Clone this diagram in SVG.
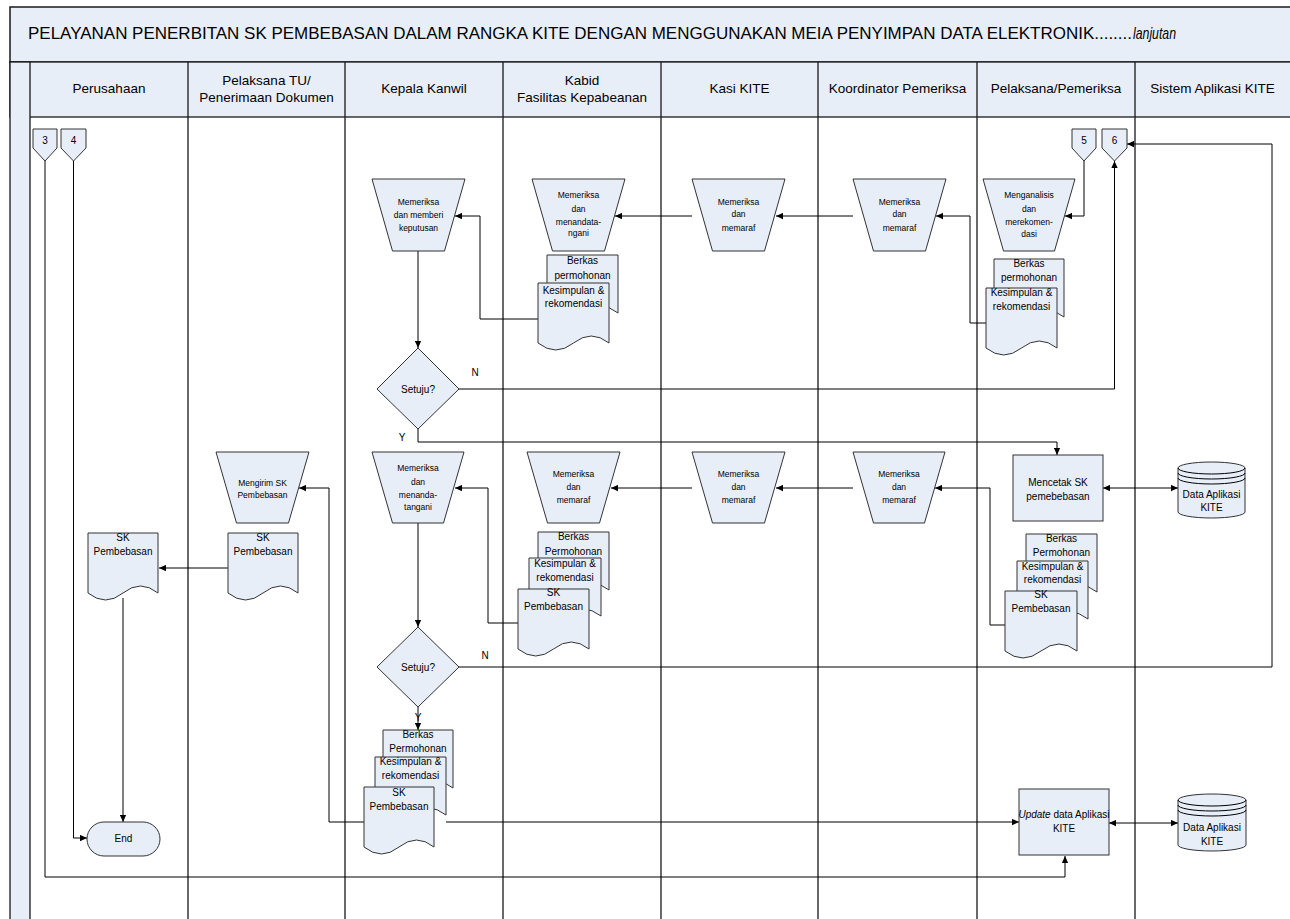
<svg xmlns="http://www.w3.org/2000/svg" width="1290" height="919" viewBox="0 0 1290 919">
<defs>
<marker id="ah" viewBox="0 0 10 10" refX="10" refY="5" markerWidth="7" markerHeight="7" markerUnits="userSpaceOnUse" orient="auto-start-reverse"><path d="M0,0.5 L10,5 L0,9.5 Z" fill="#000"/></marker>
</defs>
<style>
text{font-family:"Liberation Sans",Arial,sans-serif;fill:#000}
.sh{fill:#e8eef8;stroke:#333;stroke-width:1}
.lane{stroke:#1a1a1a;stroke-width:1.3;fill:none}
.hd{font-size:13.5px;text-anchor:middle}
.s{font-size:8.5px;text-anchor:middle}
.d{font-size:10px;text-anchor:middle}
.c{stroke:#000;stroke-width:1;fill:none}
.ca{stroke:#000;stroke-width:1;fill:none;marker-end:url(#ah)}
.cb{stroke:#000;stroke-width:1;fill:none;marker-end:url(#ah);marker-start:url(#ah)}
.lb{font-size:10px;text-anchor:middle}
</style>
<rect width="1290" height="919" fill="#fff"/>
<g id="frame">
<rect x="10" y="7" width="1290" height="55" fill="#e8eef8" stroke="#1a1a1a" stroke-width="1.5"/>
<text x="28" y="39" font-size="17" textLength="1104" lengthAdjust="spacingAndGlyphs">PELAYANAN PENERBITAN SK PEMBEBASAN DALAM RANGKA KITE DENGAN MENGGUNAKAN MEIA PENYIMPAN DATA ELEKTRONIK........</text>
<text x="1133" y="39" font-size="17" font-style="italic" textLength="43" lengthAdjust="spacingAndGlyphs">lanjutan</text>
<rect x="10" y="62" width="1290" height="55" fill="#e8eef8" stroke="#1a1a1a" stroke-width="1.3"/>
<rect x="10" y="62" width="20" height="870" fill="#e8eef8" stroke="#1a1a1a" stroke-width="1.3"/>
<path class="lane" d="M188,62V919M345,62V919M503,62V919M661,62V919M818,62V919M977,62V919M1135,62V919"/>
<text class="hd" x="109" y="93">Perusahaan</text>
<text class="hd" x="266.5" y="85">Pelaksana TU/</text>
<text class="hd" x="266.5" y="102">Penerimaan Dokumen</text>
<text class="hd" x="424" y="93">Kepala Kanwil</text>
<text class="hd" x="582" y="85">Kabid</text>
<text class="hd" x="582" y="102">Fasilitas Kepabeanan</text>
<text class="hd" x="739.5" y="93">Kasi KITE</text>
<text class="hd" x="897.5" y="93">Koordinator Pemeriksa</text>
<text class="hd" x="1056" y="93">Pelaksana/Pemeriksa</text>
<text class="hd" x="1212.5" y="93">Sistem Aplikasi KITE</text>
</g>
<g id="connectors">
<path class="ca" d="M45,161V877H1065V856"/>
<path class="ca" d="M73.5,161V838H87"/>
<path class="ca" d="M123,598V822"/>
<path class="ca" d="M228,568H159"/>
<path class="ca" d="M364,822H329V488H299"/>
<path class="ca" d="M446,822H1019"/>
<path class="ca" d="M418,523V627"/>
<path class="ca" d="M418,707V730"/>
<path class="ca" d="M459,667H1272V144H1127"/>
<path class="ca" d="M518,623H488V488H455"/>
<path class="ca" d="M692,488H611"/>
<path class="ca" d="M853,488H776"/>
<path class="ca" d="M1005,625H990V488H935"/>
<path class="ca" d="M418,429V442H1057V455"/>
<path class="cb" d="M1103,488H1178"/>
<path class="cb" d="M1109,823H1178"/>
<path class="ca" d="M459,389H1114.5V161"/>
<path class="ca" d="M418,251V348"/>
<path class="ca" d="M538,319H480V216H455"/>
<path class="ca" d="M692,216H615"/>
<path class="ca" d="M853,216H776"/>
<path class="ca" d="M986,323H970V216H936"/>
<path class="ca" d="M1084,161V216H1065"/>
<text class="lb" x="475" y="376">N</text>
<text class="lb" x="402" y="441">Y</text>
<text class="lb" x="485" y="659">N</text>
<text class="lb" x="418" y="721">Y</text>
</g>
<g id="off3"><path class="sh" d="M33,129H57V148L45,161L33,148Z"/><text class="lb" x="45" y="144">3</text></g>
<g id="off4"><path class="sh" d="M61,129H86V148L73.5,161L61,148Z"/><text class="lb" x="73.5" y="144">4</text></g>
<g id="off5"><path class="sh" d="M1072,129H1096V148L1084,161L1072,148Z"/><text class="lb" x="1084" y="144">5</text></g>
<g id="off6"><path class="sh" d="M1102,129H1127V148L1114.5,161L1102,148Z"/><text class="lb" x="1114.5" y="144">6</text></g>

<g id="kepala1"><path class="sh" d="M372,179H465L444.5,251H392.5Z"/>
<text class="s" x="418.5" y="205">Memeriksa</text><text class="s" x="418.5" y="218">dan memberi</text><text class="s" x="418.5" y="231">keputusan</text></g>
<g id="kabid1"><path class="sh" d="M532,179H625L604.5,251H552.5Z"/>
<text class="s" x="578.5" y="198">Memeriksa</text><text class="s" x="578.5" y="212">dan</text><text class="s" x="578.5" y="225">menandata-</text><text class="s" x="578.5" y="236">ngani</text></g>
<g id="kasi1"><path class="sh" d="M692,179H785L764.5,251H712.5Z"/>
<text class="s" x="738.5" y="205">Memeriksa</text><text class="s" x="738.5" y="217">dan</text><text class="s" x="738.5" y="231">memaraf</text></g>
<g id="koord1"><path class="sh" d="M853,179H946L925.5,251H873.5Z"/>
<text class="s" x="899.5" y="205">Memeriksa</text><text class="s" x="899.5" y="217">dan</text><text class="s" x="899.5" y="231">memaraf</text></g>
<g id="analisis1"><path class="sh" d="M983,179H1075L1054.5,251H1003.5Z"/>
<text class="s" x="1029" y="198">Menganalisis</text><text class="s" x="1029" y="212">dan</text><text class="s" x="1029" y="225">merekomen-</text><text class="s" x="1029" y="237">dasi</text></g>

<g id="docs-kabid1">
<path class="sh" d="M547,255H618V313Q600.25,299,582.5,313Q564.75,327,547,313Z"/>
<text class="d" x="582.5" y="264">Berkas</text><text class="d" x="582.5" y="279">permohonan</text>
<path class="sh" d="M538,283H609V343Q591.25,329,573.5,343Q555.75,357,538,343Z"/>
<text class="d" x="573.5" y="294">Kesimpulan &amp;</text><text class="d" x="573.5" y="307">rekomendasi</text>
</g>
<g id="docs-pelaksana1">
<path class="sh" d="M994,259H1064V317Q1046.5,303,1029,317Q1011.5,331,994,317Z"/>
<text class="d" x="1029" y="267">Berkas</text><text class="d" x="1029" y="281">permohonan</text>
<path class="sh" d="M986,288H1057V348Q1039.25,334,1021.5,348Q1003.75,362,986,348Z"/>
<text class="d" x="1021.5" y="296">Kesimpulan &amp;</text><text class="d" x="1021.5" y="310">rekomendasi</text>
</g>
<g id="setuju1"><path class="sh" d="M418,348L459,389L418,429L377,389Z"/><text class="lb" x="418" y="392.5">Setuju?</text></g>

<g id="mengirim"><path class="sh" d="M216,452H309L288.5,523H236.5Z"/>
<text class="s" x="262.5" y="486">Mengirim SK</text><text class="s" x="262.5" y="498">Pembebasan</text></g>
<g id="kepala2"><path class="sh" d="M372,452H464L443.5,523H392.5Z"/>
<text class="s" x="418" y="471">Memeriksa</text><text class="s" x="418" y="485">dan</text><text class="s" x="418" y="498">menanda-</text><text class="s" x="418" y="510">tangani</text></g>
<g id="kabid2"><path class="sh" d="M527,452H620L599.5,523H547.5Z"/>
<text class="s" x="573.5" y="477">Memeriksa</text><text class="s" x="573.5" y="490">dan</text><text class="s" x="573.5" y="503">memaraf</text></g>
<g id="kasi2"><path class="sh" d="M692,452H785L764.5,523H712.5Z"/>
<text class="s" x="738.5" y="477">Memeriksa</text><text class="s" x="738.5" y="490">dan</text><text class="s" x="738.5" y="503">memaraf</text></g>
<g id="koord2"><path class="sh" d="M853,452H945L924.5,523H873.5Z"/>
<text class="s" x="899" y="477">Memeriksa</text><text class="s" x="899" y="490">dan</text><text class="s" x="899" y="503">memaraf</text></g>
<g id="mencetak"><rect class="sh" x="1013" y="455" width="90" height="66"/>
<text class="d" x="1058" y="486">Mencetak SK</text><text class="d" x="1058" y="500">pemebebasan</text></g>
<g id="db1"><path class="sh" d="M1178,468A33.5,6,0,0,1,1245,468V512A33.5,6,0,0,1,1178,512Z"/>
<path class="c" d="M1178,468A33.5,6,0,0,0,1245,468M1178,473A33.5,6,0,0,0,1245,473M1178,478A33.5,6,0,0,0,1245,478"/>
<text class="d" x="1211.5" y="498">Data Aplikasi</text><text class="d" x="1211.5" y="511">KITE</text></g>

<g id="docs-kabid2">
<path class="sh" d="M538,532H609V590Q591.25,576,573.5,590Q555.75,604,538,590Z"/>
<text class="d" x="573.5" y="540">Berkas</text><text class="d" x="573.5" y="555">Permohonan</text>
<path class="sh" d="M529,558H601V616Q583,602,565,616Q547,630,529,616Z"/>
<text class="d" x="565" y="567">Kesimpulan &amp;</text><text class="d" x="565" y="581">rekomendasi</text>
<path class="sh" d="M518,589H589V649Q571.25,635,553.5,649Q535.75,663,518,649Z"/>
<text class="d" x="553.5" y="596">SK</text><text class="d" x="553.5" y="610">Pembebasan</text>
</g>
<g id="docs-pelaksana2">
<path class="sh" d="M1026,534H1097V592Q1079.25,578,1061.5,592Q1043.75,606,1026,592Z"/>
<text class="d" x="1061.5" y="542">Berkas</text><text class="d" x="1061.5" y="556">Permohonan</text>
<path class="sh" d="M1017,561H1088V619Q1070.25,605,1052.5,619Q1034.75,633,1017,619Z"/>
<text class="d" x="1052.5" y="570">Kesimpulan &amp;</text><text class="d" x="1052.5" y="583">rekomendasi</text>
<path class="sh" d="M1005,591H1077V651Q1059,637,1041,651Q1023,665,1005,651Z"/>
<text class="d" x="1041" y="598">SK</text><text class="d" x="1041" y="612">Pembebasan</text>
</g>
<g id="doc-tu"><path class="sh" d="M228,533H298V593Q280.5,579,263,593Q245.5,607,228,593Z"/>
<text class="d" x="263" y="541">SK</text><text class="d" x="263" y="555">Pembebasan</text></g>
<g id="doc-perusahaan"><path class="sh" d="M88,533H158V593Q140.5,579,123,593Q105.5,607,88,593Z"/>
<text class="d" x="123" y="541">SK</text><text class="d" x="123" y="555">Pembebasan</text></g>
<g id="setuju2"><path class="sh" d="M418,627L459,667L418,707L377,667Z"/><text class="lb" x="418" y="670.5">Setuju?</text></g>

<g id="docs-kepala">
<path class="sh" d="M383,730H453V788Q435.5,774,418,788Q400.5,802,383,788Z"/>
<text class="d" x="418" y="738">Berkas</text><text class="d" x="418" y="752">Permohonan</text>
<path class="sh" d="M375,757H446V815Q428.25,801,410.5,815Q392.75,829,375,815Z"/>
<text class="d" x="410.5" y="765">Kesimpulan &amp;</text><text class="d" x="410.5" y="779">rekomendasi</text>
<path class="sh" d="M364,787H434V847Q416.5,833,399,847Q381.5,861,364,847Z"/>
<text class="d" x="399" y="796">SK</text><text class="d" x="399" y="810">Pembebasan</text>
</g>
<g id="end"><rect class="sh" x="87" y="822" width="73" height="34" rx="17"/><text class="d" x="123.5" y="842">End</text></g>
<g id="update"><rect class="sh" x="1019" y="789" width="90" height="66"/>
<text class="d" x="1064" y="818"><tspan font-style="italic">Update</tspan> data Aplikasi</text><text class="d" x="1064" y="832">KITE</text></g>
<g id="db2"><path class="sh" d="M1178,800A34,6,0,0,1,1246,800V845A34,6,0,0,1,1178,845Z"/>
<path class="c" d="M1178,800A34,6,0,0,0,1246,800M1178,805A34,6,0,0,0,1246,805M1178,810A34,6,0,0,0,1246,810"/>
<text class="d" x="1212" y="831">Data Aplikasi</text><text class="d" x="1212" y="845">KITE</text></g>
</svg>
